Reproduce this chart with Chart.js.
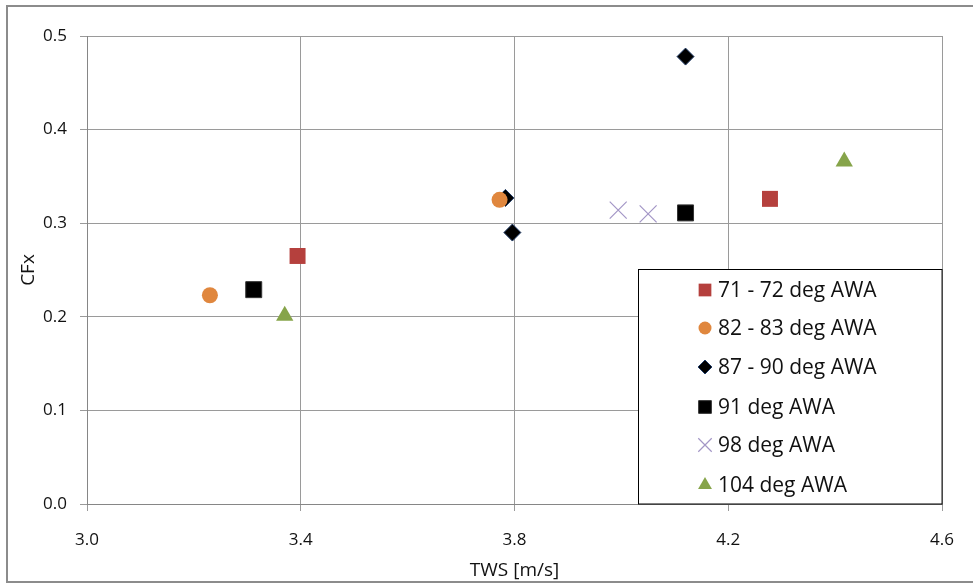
<!DOCTYPE html>
<html>
<head>
<meta charset="utf-8">
<script src="https://cdn.jsdelivr.net/npm/chart.js@4"></script>
<style>
  html, body { margin: 0; padding: 0; background: #fff; }
  #wrap { position: relative; width: 973px; height: 588px; overflow: hidden; }
  #frame { position: absolute; left: 6px; top: 5px; width: 1000px; height: 578px; border: 2px solid #8c8c8c; box-sizing: border-box; }
  canvas { position: absolute; left: 0; top: 0; }
</style>
</head>
<body>
<div id="wrap">
  <div id="frame"></div>
  <canvas id="c" width="973" height="588"></canvas>
</div>
<script>
// series
const labels = ['71 - 72 deg AWA', '82 - 83 deg AWA', '87 - 90 deg AWA', '91 deg AWA', '98 deg AWA', '104 deg AWA'];
const tws71 = [3.394, 4.278];
const cfx71 = [0.265, 0.326];
const tws82 = [3.230, 3.772];
const cfx82 = [0.223, 0.325];
const tws87 = [3.783, 3.796, 4.120];
const cfx87 = [0.327, 0.290, 0.478];
const tws91 = [3.312, 4.120];
const cfx91 = [0.229, 0.311];
const tws98 = [3.994, 4.050];
const cfx98 = [0.314, 0.310];
const tws104 = [3.370, 4.417];
const cfx104 = [0.201, 0.366];
const xTicks = [3.0, 3.4, 3.8, 4.2, 4.6];
const yTicks = [0.0, 0.1, 0.2, 0.3, 0.4, 0.5];

function pts(xs, ys) {
  return xs.map((x, i) => ({ x: x, y: ys[i] }));
}

const styles = [
  { fill: '#b5403d', border: '#b5403d', shape: 'rect', r: 11.3, lr: 9, bw: 0 },
  { fill: '#e0873e', border: '#e0873e', shape: 'circle', r: 8, lr: 6.5, bw: 0 },
  { fill: '#000000', border: '#1f3a66', shape: 'rectRot', r: 8.5, lr: 7, bw: 1 },
  { fill: '#000000', border: '#333333', shape: 'rect', r: 11.3, lr: 9, bw: 1 },
  { fill: 'rgba(0,0,0,0)', border: '#a396c6', shape: 'crossRot', r: 12, lr: 9.5, bw: 1.2 },
  { fill: '#86a44a', border: '#86a44a', shape: 'triangle', r: 10, lr: 8, bw: 0 }
];

const seriesData = [
  pts(tws71, cfx71), pts(tws82, cfx82), pts(tws87, cfx87),
  pts(tws91, cfx91), pts(tws98, cfx98), pts(tws104, cfx104)
];

const datasets = labels.map((lab, i) => ({
  label: lab,
  data: seriesData[i],
  pointStyle: styles[i].shape,
  pointRadius: styles[i].r,
  pointHoverRadius: styles[i].r,
  backgroundColor: styles[i].fill,
  borderColor: styles[i].border,
  pointBorderWidth: styles[i].bw,
  showLine: false
}));

// legend box drawn inside the plot, bottom right
const boxLegend = {
  id: 'boxLegend',
  afterDatasetsDraw(chart) {
    const ctx = chart.ctx;
    const a = chart.chartArea;
    const left = 638.5, top = 269.5;
    const right = a.right, bottom = a.bottom;
    ctx.save();
    ctx.fillStyle = '#fff';
    ctx.fillRect(left, top, right - left, bottom - top);
    ctx.strokeStyle = '#000';
    ctx.lineWidth = 1;
    ctx.strokeRect(left, top, right - left, bottom - top);
    ctx.font = '21px "Open Sans", sans-serif';
    ctx.textBaseline = 'middle';
    const rowY = [290, 328, 367, 407, 445, 485];
    labels.forEach((lab, i) => {
      const s = styles[i];
      ctx.fillStyle = s.fill;
      ctx.strokeStyle = s.border;
      ctx.lineWidth = s.bw || 0.001;
      Chart.helpers.drawPoint(ctx, { pointStyle: s.shape, radius: s.lr, borderWidth: s.bw, rotation: 0 }, 705, rowY[i]);
      ctx.fillStyle = '#111';
      ctx.fillText(lab, 718, rowY[i] + 1);
    });
    ctx.restore();
  }
};

new Chart(document.getElementById('c'), {
  type: 'scatter',
  data: { datasets: datasets },
  plugins: [boxLegend],
  options: {
    responsive: false,
    animation: false,
    layout: { padding: { top: 36, right: 28, left: 17, bottom: 0 } },
    plugins: { legend: { display: false }, tooltip: { enabled: false } },
    scales: {
      x: {
        type: 'linear', min: 3.0, max: 4.6,
        afterBuildTicks: (ax) => { ax.ticks = xTicks.map(v => ({ value: v })); },
        afterFit: (ax) => { ax.height = 84; },
        ticks: {
          color: '#111', padding: 19,
          font: { family: '"Open Sans", sans-serif', size: 17 },
          callback: (v) => v.toFixed(1)
        },
        grid: { color: '#9a9a9a', lineWidth: 1, tickLength: 7, tickColor: '#9a9a9a' },
        border: { color: '#868686', width: 1 },
        title: {
          display: true, text: 'TWS [m/s]', color: '#111', padding: { top: 0, bottom: 6 },
          font: { family: '"Open Sans", sans-serif', size: 19 }
        }
      },
      y: {
        type: 'linear', min: 0, max: 0.5,
        afterBuildTicks: (ax) => { ax.ticks = yTicks.map(v => ({ value: v })); },
        afterFit: (ax) => { ax.width = 70; },
        ticks: {
          color: '#111', padding: 13,
          font: { family: '"Open Sans", sans-serif', size: 17 },
          callback: (v) => v.toFixed(1)
        },
        grid: { color: '#9a9a9a', lineWidth: 1, tickLength: 7, tickColor: '#9a9a9a' },
        border: { color: '#868686', width: 1 },
        title: {
          display: true, text: 'CFx', color: '#111', padding: { top: 0, bottom: 0 },
          font: { family: '"Open Sans", sans-serif', size: 19 }
        }
      }
    }
  }
});
</script>
</body>
</html>
